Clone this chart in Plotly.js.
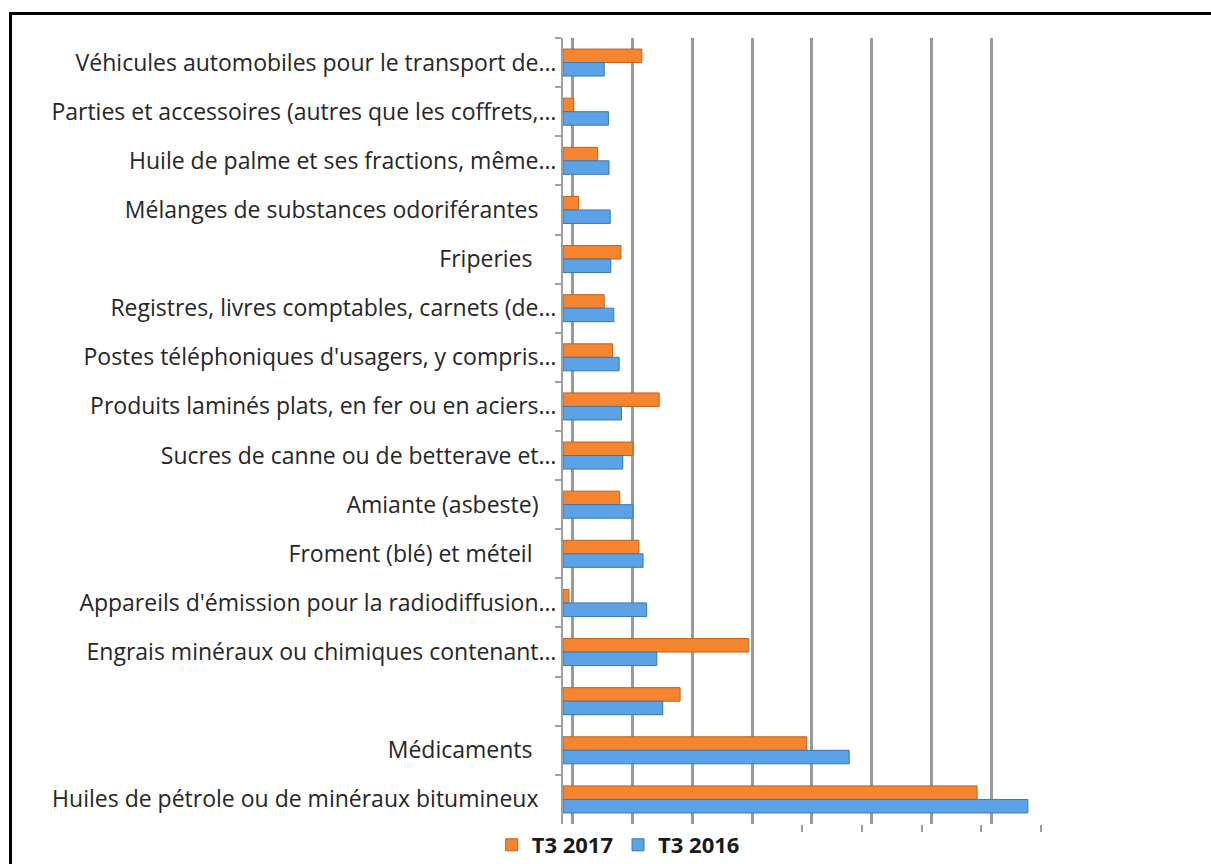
<!DOCTYPE html>
<html>
<head>
<meta charset="utf-8">
<script src="https://cdn.plot.ly/plotly-3.0.1.min.js"></script>
<style>
html,body{margin:0;padding:0;background:#fff;overflow:hidden;}
#chart{position:absolute;left:0;top:0;width:1211px;height:864px;}
#frame{position:absolute;left:9px;top:12px;width:1400px;height:1000px;border-left:3px solid #000;border-top:3px solid #000;pointer-events:none;}
</style>
</head>
<body>
<div id="chart"></div>
<div id="frame"></div>
<script>
const categories = [
  "Véhicules automobiles pour le transport de…",
  "Parties et accessoires (autres que les coffrets,…",
  "Huile de palme et ses fractions, même…",
  "Mélanges de substances odoriférantes\u00a0\u00a0\u00a0",
  "Friperies\u00a0\u00a0\u00a0\u00a0",
  "Registres, livres comptables, carnets (de…",
  "Postes téléphoniques d'usagers, y compris…",
  "Produits laminés plats, en fer ou en aciers…",
  "Sucres de canne ou de betterave et…",
  "Amiante (asbeste)\u00a0\u00a0\u00a0",
  "Froment (blé) et méteil\u00a0\u00a0\u00a0\u00a0",
  "Appareils d'émission pour la radiodiffusion…",
  "Engrais minéraux ou chimiques contenant…",
  " ",
  "Médicaments\u00a0\u00a0\u00a0\u00a0",
  "Huiles de pétrole ou de minéraux bitumineux\u00a0\u00a0\u00a0"
];
const seriesNames = ["T3 2017", "T3 2016"];
const t3_2017 = [1.32, 0.18, 0.58, 0.26, 0.97, 0.69, 0.83, 1.61, 1.17, 0.95, 1.27, 0.10, 3.11, 1.96, 4.08, 6.93];
const t3_2016 = [0.69, 0.76, 0.77, 0.79, 0.80, 0.85, 0.94, 0.98, 1.00, 1.17, 1.34, 1.40, 1.57, 1.67, 4.79, 7.78];

const data = [
  {type:'bar', orientation:'h', name:seriesNames[0], y:categories, x:t3_2017,
   marker:{color:'#F5852F', line:{color:'#C0601E', width:1}}, hoverinfo:'x+name'},
  {type:'bar', orientation:'h', name:seriesNames[1], y:categories, x:t3_2016,
   marker:{color:'#5BA3E6', line:{color:'#3A76B2', width:1}}, hoverinfo:'x+name'},
  {type:'scatter', x:[], y:[], xaxis:'x2', showlegend:false, hoverinfo:'skip'}
];

const layout = {
  width:1211, height:864,
  margin:{l:563, r:170, t:38, b:36},
  paper_bgcolor:'#fff', plot_bgcolor:'rgba(0,0,0,0)',
  barmode:'group', bargap:0.45, bargroupgap:0,
  font:{family:'"Open Sans", sans-serif', color:'#262626'},
  xaxis:{range:[0,8], showgrid:false, zeroline:false, showticklabels:false,
         ticks:'outside', ticklen:7, tickcolor:'#9a9a9a', tickwidth:1.5, dtick:1,
         showline:false, fixedrange:true},
  xaxis2:{overlaying:'x', range:[-0.167,7.833], dtick:1, showgrid:true, gridcolor:'#9a9a9a',
          gridwidth:2.5, zeroline:false, showticklabels:false, ticks:'', showline:false, side:'bottom'},
  yaxis:{type:'category', categoryorder:'array', categoryarray:categories, autorange:'reversed',
         showline:true, linecolor:'#a0a0a0', linewidth:2, ticks:'outside', ticklen:6,
         tickcolor:'#a0a0a0', tickwidth:1.5, tickson:'boundaries', showgrid:false,
         tickfont:{size:23, family:'"Open Sans", sans-serif', color:'#262626'}},
  legend:{orientation:'h', xref:'container', yref:'container', x:0.406, xanchor:'left',
          y:0.022, yanchor:'middle', font:{size:22, family:'"Open Sans", sans-serif', color:'#1a1a1a', weight:'bold'},
          itemwidth:30, tracegroupgap:0},
  showlegend:true
};

Plotly.newPlot('chart', data, layout, {displayModeBar:false});
</script>
</body>
</html>
